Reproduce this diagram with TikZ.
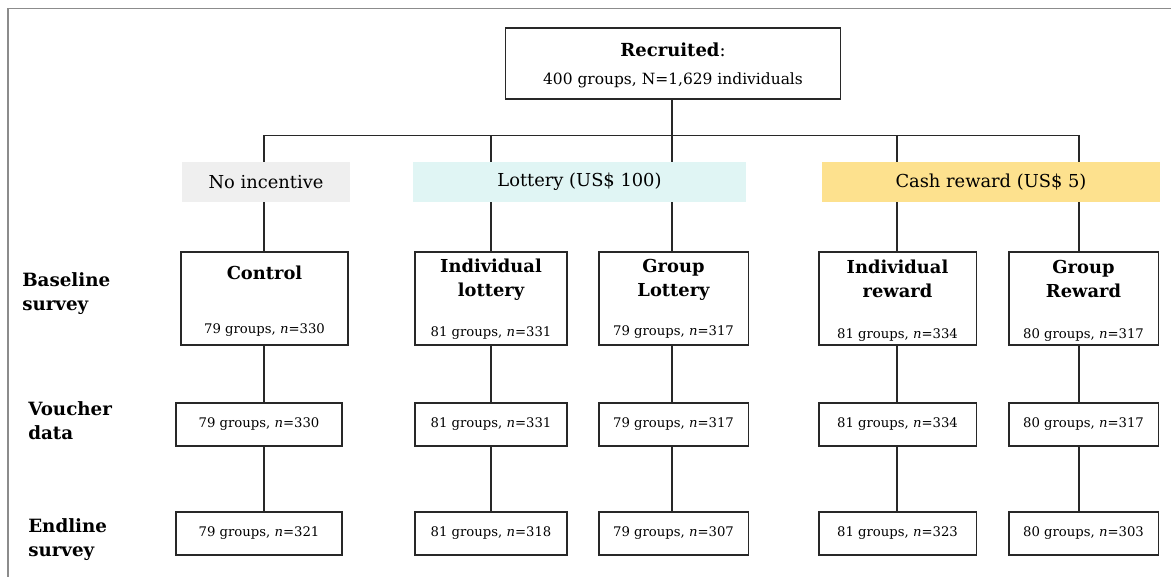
\documentclass[tikz,border=0pt]{standalone}
\usepackage{fontspec}
\setmainfont{DejaVu Serif}
\usepackage{tikz}
\usetikzlibrary{positioning,calc,backgrounds}
\definecolor{nonegray}{RGB}{239,239,239}
\definecolor{lotterycyan}{RGB}{224,245,244}
\definecolor{cashyellow}{RGB}{253,225,142}
\definecolor{framegray}{RGB}{140,140,140}
\definecolor{linegray}{RGB}{40,40,40}

\begin{document}
\begin{tikzpicture}[x=0.025cm,y=-0.025cm,
	box/.style={draw=linegray,line width=0.75pt,inner sep=0pt},
	armbox/.style={box,minimum height=2.325cm},
	countbox/.style={box,minimum height=1.075cm,font=\fontsize{9.4}{11}\selectfont},
	incentive/.style={inner sep=0pt,minimum height=1.0cm,font=\fontsize{12.7}{15}\selectfont},
	armtitle/.style={align=center,inner sep=0pt,font=\fontsize{12.7}{17}\selectfont\bfseries},
	armcount/.style={inner sep=0pt,font=\fontsize{9.4}{11}\selectfont},
	rowlabel/.style={anchor=west,align=left,inner sep=0pt,font=\fontsize{13}{17}\selectfont\bfseries},
	link/.style={draw=linegray,line width=0.75pt}]
	\useasboundingbox (0,0) rectangle (1171,577);
	\draw[framegray,line width=1.4pt] (8,577) -- (8,8.5) -- (1171,8.5);
	
	\node[box,minimum width=8.35cm,minimum height=1.775cm] (rec) at (673,63.5) {};
	\node[font=\fontsize{12.8}{15}\selectfont] (recT) at (673,50) {\textbf{Recruited}:};
	\node[font=\fontsize{11}{13}\selectfont] (recN) at (673,80) {400 groups, N=1,629 individuals};
	
	% incentive arms
	\node[incentive,fill=nonegray,minimum width=4.2cm] (none) at (266,182) {No incentive};
	\node[incentive,fill=lotterycyan,minimum width=8.325cm] (lott) at (579.5,182) {Lottery (US\$ 100)};
	\node[incentive,fill=cashyellow,minimum width=8.45cm] (cash) at (991,182) {Cash reward (US\$ 5)};
	
	% baseline survey
	\node[armbox,minimum width=4.175cm] (ctrl) at (264.5,298.5) {};
	\node[armbox,minimum width=3.8cm] (indlot) at (491,298.5) {};
	\node[armbox,minimum width=3.725cm] (grplot) at (673.5,298.5) {};
	\node[armbox,minimum width=3.925cm] (indrew) at (897.5,298.5) {};
	\node[armbox,minimum width=3.725cm] (grprew) at (1083.5,298.5) {};
	
	\node[armtitle] (ctrlT) at (264.5,273) {Control};
	\node[armtitle] (indlotT) at (491,280) {Individual\\lottery};
	\node[armtitle] (grplotT) at (673.5,280) {Group\\Lottery};
	\node[armtitle] (indrewT) at (897.5,279) {Individual\\reward};
	\node[armtitle] (grprewT) at (1083.5,279) {Group\\Reward};
	
	\node[armcount] (ctrlN) at (264.5,330) {79 groups, \textit{n}=330};
	\node[armcount] (indlotN) at (491,333) {81 groups, \textit{n}=331};
	\node[armcount] (grplotN) at (673.5,332) {79 groups, \textit{n}=317};
	\node[armcount] (indrewN) at (897.5,335) {81 groups, \textit{n}=334};
	\node[armcount] (grprewN) at (1083.5,335) {80 groups, \textit{n}=317};
	
	% voucher data
	\node[countbox,minimum width=4.15cm] (ctrlV) at (259,424.5) {79 groups, \textit{n}=330};
	\node[countbox,minimum width=3.8cm] (indlotV) at (491,424.5) {81 groups, \textit{n}=331};
	\node[countbox,minimum width=3.725cm] (grplotV) at (673.5,424.5) {79 groups, \textit{n}=317};
	\node[countbox,minimum width=3.925cm] (indrewV) at (897.5,424.5) {81 groups, \textit{n}=334};
	\node[countbox,minimum width=3.725cm] (grprewV) at (1083.5,424.5) {80 groups, \textit{n}=317};
	
	% endline survey
	\node[countbox,minimum width=4.15cm] (ctrlE) at (259,533.5) {79 groups, \textit{n}=321};
	\node[countbox,minimum width=3.8cm] (indlotE) at (491,533.5) {81 groups, \textit{n}=318};
	\node[countbox,minimum width=3.725cm] (grplotE) at (673.5,533.5) {79 groups, \textit{n}=307};
	\node[countbox,minimum width=3.925cm] (indrewE) at (897.5,533.5) {81 groups, \textit{n}=323};
	\node[countbox,minimum width=3.725cm] (grprewE) at (1083.5,533.5) {80 groups, \textit{n}=303};
	
	\node[rowlabel] (base) at (22,294) {Baseline\\survey};
	\node[rowlabel] (vouch) at (28,421) {Voucher\\data};
	\node[rowlabel] (endl) at (28,540) {Endline\\survey};
	
	\coordinate (split) at (672,135.5);
	\coordinate (b1) at (264,135.5);
	\coordinate (b2) at (491,135.5);
	\coordinate (b4) at (897,135.5);
	\coordinate (b5) at (1079,135.5);
	
	\begin{scope}[on background layer]
		\draw[link] (rec.south -| split) -- (split);
		\draw[link] (b1) -- (b5);
		\draw[link] (b1) -- (ctrl.north -| b1);
		\draw[link] (b2) -- (indlot.north -| b2);
		\draw[link] (split) -- (grplot.north -| split);
		\draw[link] (b4) -- (indrew.north -| b4);
		\draw[link] (b5) -- (grprew.north -| b5);
	\end{scope}
	
	\draw[link] (ctrl.south -| b1) -- (ctrlV.north -| b1);
	\draw[link] (indlot.south -| b2) -- (indlotV.north -| b2);
	\draw[link] (grplot.south -| split) -- (grplotV.north -| split);
	\draw[link] (indrew.south -| b4) -- (indrewV.north -| b4);
	\draw[link] (grprew.south -| b5) -- (grprewV.north -| b5);
	
	\draw[link] (ctrlV.south -| b1) -- (ctrlE.north -| b1);
	\draw[link] (indlotV.south -| b2) -- (indlotE.north -| b2);
	\draw[link] (grplotV.south -| split) -- (grplotE.north -| split);
	\draw[link] (indrewV.south -| b4) -- (indrewE.north -| b4);
	\draw[link] (grprewV.south -| b5) -- (grprewE.north -| b5);
\end{tikzpicture}
\end{document}
